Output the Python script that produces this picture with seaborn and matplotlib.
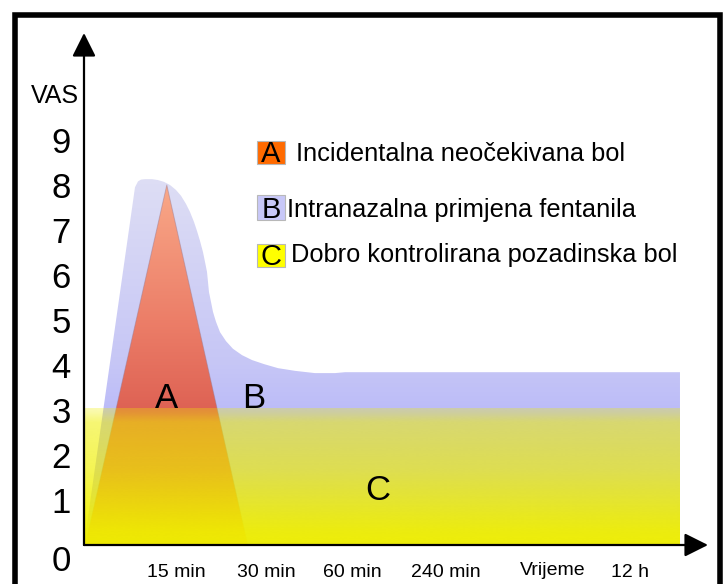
import numpy as np
import matplotlib
matplotlib.use("Agg")
import matplotlib.pyplot as plt
import matplotlib.colors as mcolors
from matplotlib.patches import Rectangle
import seaborn as sns

# ---------------- data (schematic time units, VAS scale) ----------------
# B: intranasal fentanyl envelope (outline)
b_x = [0.0, 0.85, 0.90, 0.95, 1.017, 1.133, 1.233, 1.333, 1.433, 1.533, 1.617, 1.70,
       1.767, 1.833, 1.883, 1.933, 1.983, 2.017, 2.05, 2.067, 2.083, 2.117, 2.15, 2.20,
       2.267, 2.367, 2.483, 2.633, 2.80, 3.00, 3.233, 3.517, 3.85, 4.183, 4.35, 5.267, 9.933]
b_y = [0.0, 7.95, 8.08, 8.12, 8.13, 8.13, 8.11, 8.07, 8.00, 7.89, 7.76, 7.58,
       7.40, 7.18, 6.98, 6.76, 6.51, 6.29, 6.07, 5.84, 5.62, 5.40, 5.18, 4.96,
       4.73, 4.53, 4.36, 4.22, 4.11, 4.02, 3.93, 3.87, 3.82, 3.82, 3.84, 3.84, 3.84]
# A: incidental breakthrough pain
a_x = [0.02, 1.38, 2.73]
a_y = [0.0, 8.0, 0.0]
# C: well controlled background pain
c_x = [0.0, 9.93]
c_y = [3.04, 3.04]

vas_ticks = [0, 1, 2, 3, 4, 5, 6, 7, 8, 9]
vas_labels = ["0", "1", "2", "3", "4", "5", "6", "7", "8", "9"]
time_pos = [1.54, 3.04, 4.47, 6.03, 9.10]
time_labels = ["15 min", "30 min", "60 min", "240 min", "12 h"]
time_title_pos = 7.82

legend_letters = ["A", "B", "C"]
legend_texts = ["Incidentalna neočekivana bol",
                "Intranazalna primjena fentanila",
                "Dobro kontrolirana pozadinska bol"]
legend_colors = ["#ff6a00", "#c8c8f8", "#ffff00"]

# ---------------- style ----------------
sns.set_theme(style="white")
plt.rcParams["font.family"] = ["Liberation Sans", "DejaVu Sans"]
plt.rcParams["text.color"] = "black"

W, H = 726, 584
fig = plt.figure(figsize=(W / 100, H / 100), dpi=100)
fig.patch.set_facecolor("white")

X0, XAX_TIP, Y0, YAX_TIP = 84, 708, 545, 33
PX_X, PX_Y = 60.0, 45.0
ax = fig.add_axes([X0 / W, (H - Y0) / H, (XAX_TIP - X0) / W, (Y0 - YAX_TIP) / H])
ax.set_facecolor("white")
XMAX = (XAX_TIP - X0) / PX_X
YMAX = (Y0 - YAX_TIP) / PX_Y


def gradient_fill(xs, ys, stops, colors, alphas=None, z=1):
    poly = ax.fill_between(xs, 0, ys, color="none", lw=0, zorder=z)
    v = np.linspace(0, max(ys), 300)
    rgbs = np.array([mcolors.to_rgb(c) for c in colors])
    rgb = np.stack([np.interp(v, stops, rgbs[:, i]) for i in range(3)], axis=1)
    a = np.interp(v, stops, alphas) if alphas is not None else np.ones_like(v)
    img = np.concatenate([rgb, a[:, None]], axis=1)[:, None, :]
    im = ax.imshow(img, extent=(min(xs), max(xs), 0, max(ys)), origin="lower",
                   aspect="auto", interpolation="bilinear", zorder=z)
    im.set_clip_path(poly.get_paths()[0], ax.transData)
    return im


# B envelope
gradient_fill(b_x, b_y, [0, 3, 4, 8.2], ["#b8b8f8", "#bcbcf8", "#c6c6f6", "#dedef4"], z=1)
# A triangle
gradient_fill(a_x, a_y, [0, 3, 5, 8], ["#d65a50", "#de6254", "#ec7e68", "#f9a888"], z=2)
sns.lineplot(x=a_x, y=a_y, sort=False, estimator=None, color="#9a7a90", lw=0.7,
             alpha=0.45, ax=ax, legend=False, zorder=2.5)
# C band (semi-transparent yellow)
gradient_fill(c_x, c_y, [0, 0.33, 1.64, 2.73, 2.95, 3.04],
              ["#f0f000"] * 6, alphas=[0.97, 0.94, 0.68, 0.55, 0.35, 0.3], z=3)

ax.set_xlim(0, XMAX)
ax.set_ylim(0, YMAX)
for s in ax.spines.values():
    s.set_visible(False)

# axes arrows
arrow = dict(arrowstyle="-|>,head_length=0.8,head_width=0.4", mutation_scale=18,
             lw=1.6, color="black", shrinkA=0, shrinkB=0)
ax.annotate("", xy=(0, 1), xytext=(0, 0), xycoords="axes fraction", arrowprops=arrow, zorder=6)
ax.annotate("", xy=(1, 0), xytext=(0, 0), xycoords="axes fraction", arrowprops=arrow, zorder=6)

# ticks
ax.set_yticks(vas_ticks, vas_labels)
ax.tick_params(axis="y", length=0, pad=9.5, labelsize=25, labelcolor="black")
ax.get_yticklabels()[0].set_va("top")
ax.set_xticks(time_pos, time_labels)
ax.tick_params(axis="x", length=0, pad=14, labelsize=14, labelcolor="black")
ax.annotate("Vrijeme", xy=(time_title_pos, 0), xycoords=("data", "axes fraction"),
            xytext=(0, -17), textcoords="offset pixels", ha="center", va="top",
            fontsize=14, color="black")
fig.text(79 / W, 1 - 96 / H, "VAS", ha="right", va="center", fontsize=18, color="black")

# in-chart letters
ax.text(1.375, 3.04, "A", ha="center", va="baseline", fontsize=25, color="black", zorder=7)
ax.text(2.83, 3.04, "B", ha="center", va="baseline", fontsize=25, color="black", zorder=7)
ax.text(4.90, 1.00, "C", ha="center", va="baseline", fontsize=25, color="black", zorder=7)

# legend
box_tops = [141, 195, 244]
box_bottoms = [164, 220, 267]
text_x = [296, 287, 291]
text_base = [161, 217, 262]
for i in range(3):
    x0, x1 = 257, 285
    y0, y1 = box_bottoms[i], box_tops[i]
    fig.add_artist(Rectangle((x0 / W, 1 - y0 / H), (x1 - x0) / W, (y0 - y1) / H,
                             transform=fig.transFigure, fc=legend_colors[i],
                             ec="#b8b8b8", lw=0.8))
    fig.text((x0 + x1) / 2 / W, 1 - (y0 - 2) / H, legend_letters[i], ha="center",
             va="baseline", fontsize=21, color="black")
    fig.text(text_x[i] / W, 1 - text_base[i] / H, legend_texts[i], ha="left",
             va="baseline", fontsize=18.3, color="black")

# outer frame
fig.add_artist(Rectangle((15 / W, -0.05), 705 / W, 1.05 - 15 / H, transform=fig.transFigure,
                         fill=False, ec="black", lw=4, clip_on=False))

fig.savefig("out.png", dpi=100, facecolor="white")
